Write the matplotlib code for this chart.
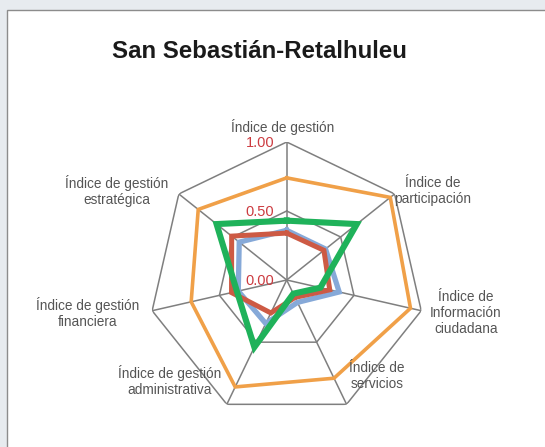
import numpy as np
import matplotlib.pyplot as plt
from matplotlib.patches import Rectangle

# Radar chart of the governance indexes for San Sebastián-Retalhuleu

titulo = "San Sebastián-Retalhuleu"
categorias = ["Índice de gestión",
              "Índice de\nparticipación",
              "Índice de\nInformación\nciudadana",
              "Índice de\nservicios",
              "Índice de gestión\nadministrativa",
              "Índice de gestión\nfinanciera",
              "Índice de gestión\nestratégica"]

azul = [0.36, 0.36, 0.39, 0.18, 0.35, 0.36, 0.44]
naranja = [0.74, 0.96, 0.92, 0.79, 0.86, 0.71, 0.82]
roja = [0.34, 0.345, 0.32, 0.14, 0.265, 0.41, 0.51]
verde = [0.43, 0.65, 0.25, 0.11, 0.54, 0.37, 0.65]

anillos = [0.5, 1.0]
marcas = [0.0, 0.5, 1.0]
marcas_txt = ["0.00", "0.50", "1.00"]

W, H = 545, 447
plt.rcParams['font.family'] = ['Liberation Sans', 'DejaVu Sans']

fig = plt.figure(figsize=(W / 100, H / 100), dpi=100)
fig.patch.set_facecolor('#e7ebef')

# white chart frame
fig.patches.append(Rectangle((7 / W, -0.05), 1.1, 1 - 10 / H + 0.05,
                             transform=fig.transFigure, facecolor='white',
                             edgecolor='#8c8c8c', linewidth=1.0, zorder=-5))

cx, cy, R = 286.7, 280.0, 138.0
ax = fig.add_axes([(cx - R) / W, (H - cy - R) / H, 2 * R / W, 2 * R / H],
                  projection='polar')
ax.set_zorder(2)
ax.set_theta_zero_location('N')
ax.set_theta_direction(-1)
ax.set_ylim(0, 1)
ax.grid(False)
ax.set_xticks([])
ax.set_yticks([])
ax.spines['polar'].set_visible(False)
ax.patch.set_alpha(0)

n = len(categorias)
ang = np.linspace(0, 2 * np.pi, n, endpoint=False)
ang_c = np.append(ang, ang[0])

grid_col = '#7f7f7f'
for r in anillos:
    ax.plot(ang_c, [r] * (n + 1), color=grid_col, lw=1.1, zorder=1)
for a in ang:
    ax.plot([a, a], [0, 1], color=grid_col, lw=1.1, zorder=1)

def cerrar(v):
    return list(v) + [v[0]]

ax.plot(ang_c, cerrar(azul), color='#86a9d8', lw=3.8, zorder=2, solid_joinstyle='miter')
ax.plot(ang_c, cerrar(naranja), color='#f0a048', lw=2.6, zorder=3, solid_joinstyle='miter')
ax.plot(ang_c, cerrar(roja), color='#cd5a44', lw=3.6, zorder=4, solid_joinstyle='miter')
ax.plot(ang_c, cerrar(verde), color='#1fb25a', lw=4.4, zorder=5, solid_joinstyle='miter')

for m, t in zip(marcas, marcas_txt):
    ax.annotate(t, xy=(0, m), xytext=(-9, -1), textcoords='offset points',
                ha='right', va='center', color='#cc3b40', fontsize=10.5, zorder=6)

# category labels (pixel positions of the reference layout)
pos = [(283, 127), (433, 191), (466, 313), (377, 376),
       (170, 381), (88, 313), (117, 191)]
for txt, (px, py) in zip(categorias, pos):
    fig.text(px / W, 1 - py / H, txt, ha='center', va='center',
             color='#555555', fontsize=9.8, linespacing=1.15)

fig.text(259 / W, 1 - 51 / H, titulo, ha='center', va='center',
         fontsize=17.3, fontweight='bold', color='#1a1a1a')

fig.savefig('out.png', dpi=100, facecolor=fig.get_facecolor())
